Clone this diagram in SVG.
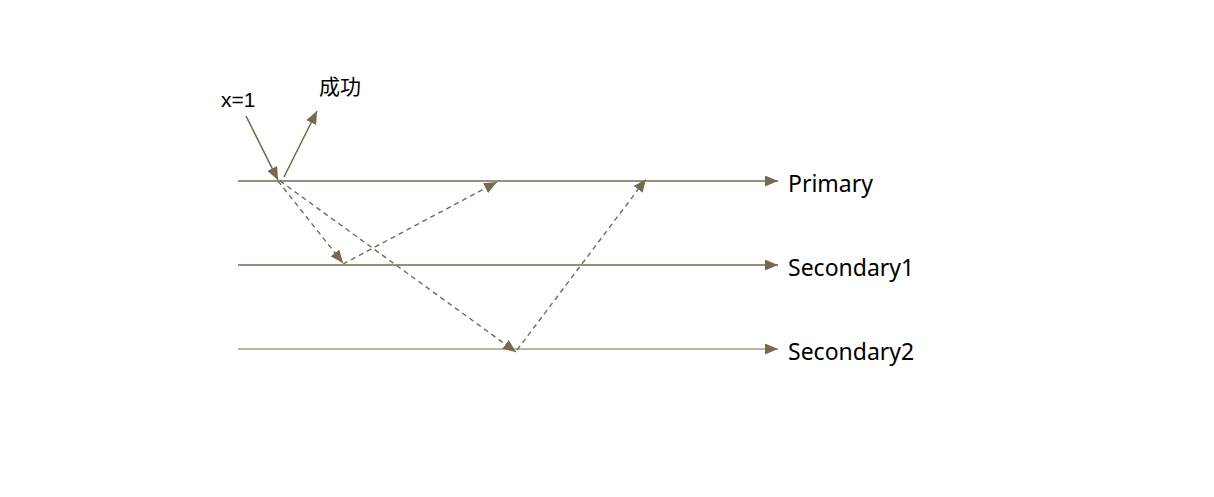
<svg xmlns="http://www.w3.org/2000/svg" width="1214" height="497" viewBox="0 0 1214 497">
<style>
.ln{stroke:#756a4f;fill:none;stroke-width:1.6}
.th{stroke-width:1}
.ds{stroke-dasharray:5 4;stroke-width:1.4}
.lb{font-family:"Noto Sans","Open Sans",sans-serif;font-size:23px;fill:#000}
.sm{font-family:"Liberation Sans","Noto Sans CJK SC",sans-serif;font-size:21px;fill:#000}
</style>
<defs>
<marker id="ah" viewBox="0 0 13 11" refX="13" refY="5.5" markerWidth="13" markerHeight="11" markerUnits="userSpaceOnUse" orient="auto">
<path d="M0,0 L13,5.5 L0,11 Z" fill="#756a4f"/>
</marker>
</defs>
<rect width="1214" height="497" fill="#fff"/>
<g id="connectors">
<line class="ln" x1="238" y1="181" x2="778" y2="181" marker-end="url(#ah)"/>
<line class="ln" x1="238" y1="265" x2="778" y2="265" marker-end="url(#ah)"/>
<line class="ln th" x1="238" y1="349" x2="778" y2="349" marker-end="url(#ah)"/>
<line class="ln" x1="246" y1="116" x2="278" y2="180" marker-end="url(#ah)"/>
<line class="ln" x1="284" y1="177" x2="317" y2="111" marker-end="url(#ah)"/>
<line class="ln ds" x1="278" y1="181" x2="343" y2="263" marker-end="url(#ah)"/>
<line class="ln ds" x1="343" y1="264" x2="497" y2="182" marker-end="url(#ah)"/>
<line class="ln ds" x1="280" y1="181" x2="516" y2="352" marker-end="url(#ah)"/>
<line class="ln ds" x1="517" y1="350" x2="646" y2="179" marker-end="url(#ah)"/>
</g>
<g id="primary"><text class="lb" x="788" y="192">Primary</text></g>
<g id="secondary1"><text class="lb" x="788" y="276">Secondary1</text></g>
<g id="secondary2"><text class="lb" x="788" y="360">Secondary2</text></g>
<g id="x1"><text class="sm" x="221" y="107">x=1</text></g>
<g id="success"><text class="sm" x="319" y="94">成功</text></g>
</svg>
